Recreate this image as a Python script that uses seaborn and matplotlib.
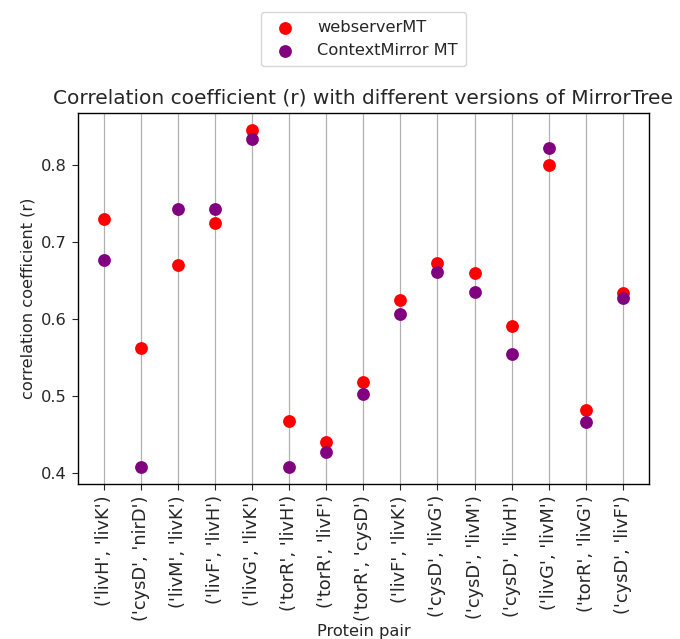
import matplotlib
matplotlib.use("Agg")
import matplotlib.pyplot as plt
import seaborn as sns
import pandas as pd

# protein pairs on the x axis
pairs = ["('livH', 'livK')", "('cysD', 'nirD')", "('livM', 'livK')", "('livF', 'livH')",
         "('livG', 'livK')", "('torR', 'livH')", "('torR', 'livF')", "('torR', 'cysD')",
         "('livF', 'livK')", "('cysD', 'livG')", "('cysD', 'livM')", "('cysD', 'livH')",
         "('livG', 'livM')", "('torR', 'livG')", "('cysD', 'livF')"]

# correlation coefficients
webserver_mt = [0.730, 0.562, 0.670, 0.725, 0.845, 0.468, 0.440, 0.518,
                0.624, 0.673, 0.659, 0.591, 0.800, 0.482, 0.634]
contextmirror_mt = [0.677, 0.408, 0.743, 0.743, 0.833, 0.408, 0.428, 0.503,
                    0.607, 0.661, 0.635, 0.554, 0.822, 0.466, 0.627]

df = pd.DataFrame({"pair": pairs, "web": webserver_mt, "cm": contextmirror_mt})

sns.set_style("ticks")
plt.rcParams['font.family'] = ['DejaVu Sans']
fs = 11.7

fig, ax = plt.subplots(figsize=(6.8, 6.39), dpi=100)
fig.subplots_adjust(left=0.1147, right=0.954, bottom=0.2426, top=0.823)

sns.scatterplot(data=df, x="pair", y="web", color="red", s=85, linewidth=0,
                label="webserverMT", ax=ax)
sns.scatterplot(data=df, x="pair", y="cm", color="purple", s=85, linewidth=0,
                label="ContextMirror MT", ax=ax)

ax.grid(axis="x", color="#b0b0b0", linewidth=0.9)
ax.set_axisbelow(True)
ax.tick_params(axis="x", labelrotation=90, labelsize=12.8, length=4.5)
ax.tick_params(axis="y", labelsize=fs, length=4.5)
ax.set_yticks([0.4, 0.5, 0.6, 0.7, 0.8])
ax.set_xlabel("Protein pair", fontsize=fs, labelpad=2)
ax.set_ylabel("correlation coefficient (r)", fontsize=fs)
ax.set_title("Correlation coefficient (r) with different versions of MirrorTree",
             fontsize=14.5, pad=7)
for s in ax.spines.values():
    s.set_color("black")
    s.set_linewidth(1.0)

ax.legend(loc="lower center", bbox_to_anchor=(0.5, 1.105), fontsize=fs, borderpad=0.5,
          handletextpad=1.0)

plt.savefig("out.png", dpi=100)
